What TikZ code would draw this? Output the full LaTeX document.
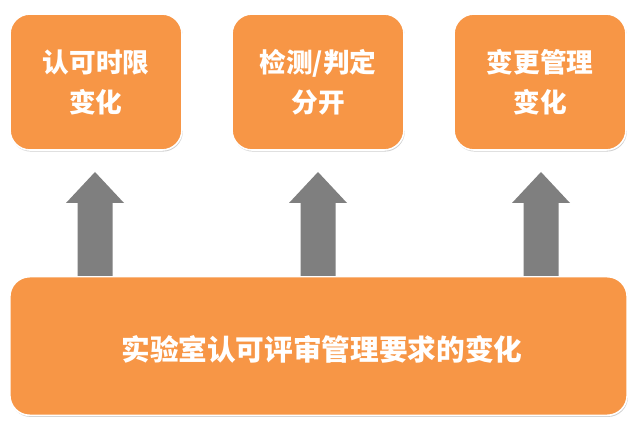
\documentclass[tikz,border=0pt]{standalone}
\usepackage{fontspec}
\newfontfamily\cjk{Noto Sans CJK SC}
\usetikzlibrary{shapes.arrows,shadows}
\definecolor{boxorange}{HTML}{F79646}
\definecolor{arrowgray}{HTML}{7F7F7F}
\begin{document}
\begin{tikzpicture}[x=0.75pt,y=-0.75pt,
  box/.style={rectangle, rounded corners=15pt, fill=boxorange, draw=white, line width=1.2pt,
    drop shadow={shadow xshift=0.6pt, shadow yshift=-1.2pt, fill=black!30, opacity=0.6},
    text=white, font=\cjk\bfseries\fontsize{20}{30}\selectfont, align=center, inner sep=0pt},
  uparrow/.style={fill=arrowgray, draw=none}
]
\useasboundingbox (0,0) rectangle (640,431);
\fill[white] (0,0) rectangle (640,431);
% top boxes
\node[box, minimum width=129pt, minimum height=102pt] (b1) at (96,82) {认可时限\\变化};
\node[box, minimum width=129pt, minimum height=102pt] (b2) at (318,82) {检测/判定\\分开};
\node[box, minimum width=129pt, minimum height=102pt] (b3) at (540,82) {变更管理\\变化};
% bottom box
\node[box, minimum width=463pt, minimum height=104pt] (base) at (318.5,346) {};
\node[text=white, font=\cjk\bfseries\fontsize{21.5}{30}\selectfont, inner sep=0pt] (basetext) at (322,349) {实验室认可评审管理要求的变化};
% arrows
\foreach \n/\cx in {1/95,2/318,3/541}{
  \coordinate (t\n) at (\cx,172);
  \fill[uparrow] (\cx-17.5,276) -- (\cx-17.5,203) -- (\cx-29,203) -- (t\n) -- (\cx+29,203) -- (\cx+17.5,203) -- (\cx+17.5,276) -- cycle;
}
\end{tikzpicture}
\end{document}
